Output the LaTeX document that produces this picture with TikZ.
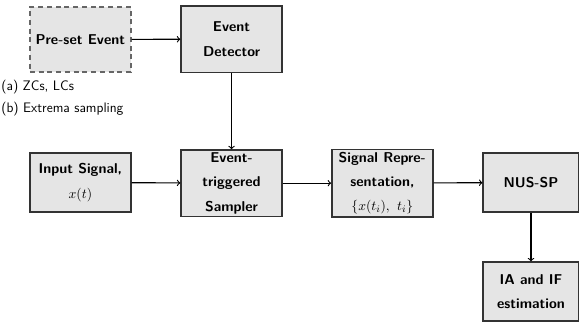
\documentclass[tikz,border=0pt]{standalone}
\usepackage{amsmath}
\usepackage{tikz}
\usetikzlibrary{arrows,positioning}
\tikzset{blk/.style={draw=black!80,line width=1.1pt,fill=gray!20,align=center,inner sep=2pt,
  font=\sffamily\bfseries\fontsize{11.4}{19.5}\selectfont},
  arr/.style={->,line width=0.9pt}}

\begin{document}
\begin{tikzpicture}
\useasboundingbox (0,0) rectangle (16.28,-9.05);
\node[blk,draw=black!60,dash pattern=on 4pt off 3pt,minimum width=2.84cm,minimum height=1.83cm] (preset) at (2.26,-1.11) {Pre-set Event};
\node[blk,minimum width=2.84cm,minimum height=1.86cm] (detector) at (6.51,-1.10) {Event\\Detector};
\node[blk,minimum width=2.84cm,minimum height=1.66cm] (input) at (2.26,-5.13) {Input Signal,\\$x(t)$};
\node[blk,minimum width=2.84cm,minimum height=1.80cm] (sampler) at (6.51,-5.15) {Event-\\triggered\\Sampler};
\node[blk,minimum width=2.84cm,minimum height=1.86cm] (repr) at (10.75,-5.15) {Signal Repre-\\sentation,\\$\{x(t_i),\ t_i\}$};
\node[blk,minimum width=2.69cm,minimum height=1.66cm] (nussp) at (14.93,-5.13) {NUS-SP};
\node[blk,minimum width=2.69cm,minimum height=1.66cm] (iaif) at (14.93,-8.20) {IA and IF\\estimation};
\node[anchor=north west,align=left,inner sep=0pt,font=\sffamily\fontsize{11}{17.5}\selectfont] (cases) at (0.03,-2.25) {(a) ZCs, LCs\\(b) Extrema sampling};
% connectors
\draw[arr] (preset) -- (detector);
\draw[arr] (detector) -- (sampler);
\draw[arr] (input) -- (sampler);
\draw[arr] (sampler) -- (repr);
\draw[arr] (repr) -- (nussp);
\draw[arr] (nussp) -- (iaif);
\end{tikzpicture}
\end{document}
